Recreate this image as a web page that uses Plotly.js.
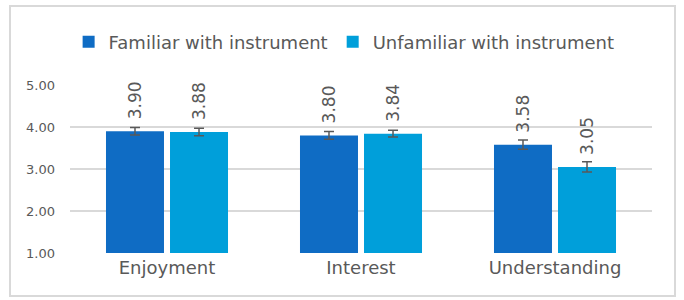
<!DOCTYPE html>
<html>
<head>
<meta charset="utf-8">
<script src="https://cdn.plot.ly/plotly-3.0.1.min.js"></script>
<style>
  html, body { margin: 0; padding: 0; background: #fff; }
  #wrap { position: relative; width: 684px; height: 300px; }
  #chart { position: absolute; left: 0; top: 0; width: 684px; height: 300px; }
  #frame { position: absolute; left: 9px; top: 5px; width: 663px; height: 288px;
           border: 2px solid #d9d9d9; pointer-events: none; }
</style>
</head>
<body>
<div id="wrap">
  <div id="chart"></div>
  <div id="frame"></div>
</div>
<script>
const categories = ['Enjoyment', 'Interest', 'Understanding'];
const seriesNames = ['Familiar with instrument', 'Unfamiliar with instrument'];
const familiar = [3.90, 3.80, 3.58];
const unfamiliar = [3.88, 3.84, 3.05];
const familiarErr = [0.09, 0.09, 0.11];
const unfamiliarErr = [0.09, 0.08, 0.12];
const yTicks = [1, 2, 3, 4, 5];

const colors = ['#0F6CC4', '#009FDA'];
const textColor = '#595959';
const series = [familiar, unfamiliar];
const errs = [familiarErr, unfamiliarErr];

const traces = series.map((vals, i) => ({
  type: 'bar',
  name: seriesNames[i],
  x: categories,
  y: vals,
  marker: { color: colors[i] },
  error_y: { type: 'data', array: errs[i], visible: true, color: textColor, thickness: 1.5, width: 5 },
  hoverinfo: 'none'
}));

const shift = 32;
const annotations = [];
series.forEach((vals, i) => {
  vals.forEach((v, j) => {
    annotations.push({
      x: categories[j], y: v, xref: 'x', yref: 'y',
      text: v.toFixed(2), showarrow: false, textangle: -90,
      yanchor: 'bottom', xanchor: 'center',
      xshift: (i === 0 ? -shift : shift), yshift: 10,
      font: { family: 'DejaVu Sans', size: 17, color: textColor }
    });
  });
});

const layout = {
  width: 684, height: 300,
  margin: { l: 70, r: 32, t: 85, b: 47 },
  paper_bgcolor: '#fff', plot_bgcolor: '#fff',
  barmode: 'group', bargap: 0.34, bargroupgap: 0.094,
  showlegend: true,
  legend: {
    orientation: 'h', x: 0.471, xanchor: 'center', y: 1.255, yanchor: 'middle',
    font: { family: 'DejaVu Sans', size: 18, color: textColor },
    bgcolor: 'rgba(0,0,0,0)'
  },
  xaxis: {
    type: 'category', showline: false, showgrid: false, zeroline: false, ticks: '',
    ticklabelstandoff: 2,
    tickfont: { family: 'DejaVu Sans', size: 18, color: textColor }
  },
  yaxis: {
    range: [1, 5], tickvals: yTicks, tickformat: '.2f',
    showgrid: true, gridcolor: '#D9D9D9', gridwidth: 1.5, zeroline: false, showline: false,
    ticks: '', ticklabelstandoff: 14,
    tickfont: { family: 'DejaVu Sans', size: 13, color: textColor }
  },
  annotations: annotations
};

Plotly.newPlot('chart', traces, layout, { staticPlot: true, displayModeBar: false });
</script>
</body>
</html>
